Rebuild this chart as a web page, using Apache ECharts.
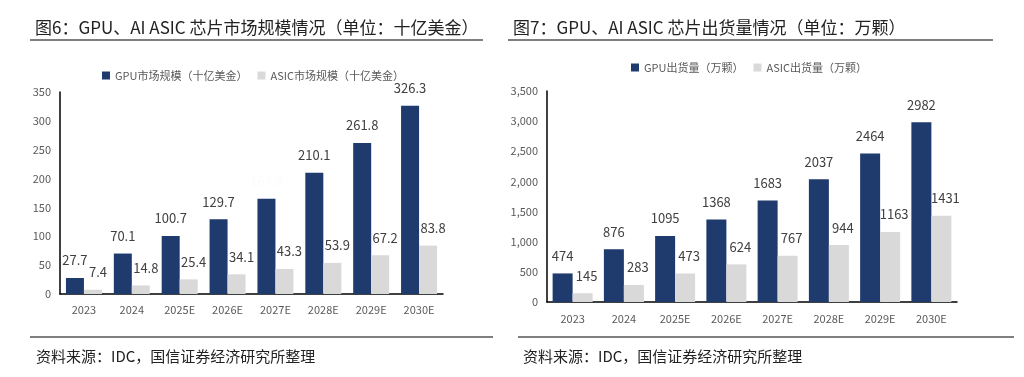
<!DOCTYPE html>
<html>
<head>
<meta charset="utf-8">
<script src="https://cdn.jsdelivr.net/npm/echarts@6/dist/echarts.min.js"></script>
<style>
  html, body { margin: 0; padding: 0; background: #fff; }
  #main { width: 1024px; height: 377px; }
</style>
</head>
<body>
<div id="main"></div>
<script>
// 年份
var years = ['2023', '2024', '2025E', '2026E', '2027E', '2028E', '2029E', '2030E'];
// 图6 市场规模（十亿美金）
var gpuMarket = [27.7, 70.1, 100.7, 129.7, 164.9, 210.1, 261.8, 326.3];
var asicMarket = [7.4, 14.8, 25.4, 34.1, 43.3, 53.9, 67.2, 83.8];
// 图7 出货量（万颗）
var gpuShip = [474, 876, 1095, 1368, 1683, 2037, 2464, 2982];
var asicShip = [145, 283, 473, 624, 767, 944, 1163, 1431];

var navy = '#1f3a6d';
var grey = '#d9d9d9';
var font = '"Noto Sans CJK SC", "Noto Sans", sans-serif';

// 图6里2027E的GPU数值几乎看不见
var gpuMarketData = gpuMarket.map(function (v, i) {
    if (i === 4) {
        return {value: v, label: {color: '#fbfbfb'}};
    }
    return v;
});

function barLabel(fmt, dx) {
    return {
        show: true,
        position: 'top',
        distance: 11,
        offset: [dx, 0],
        fontSize: 13,
        color: '#404040',
        fontFamily: font,
        formatter: fmt
    };
}

var option = {
    animation: false,
    textStyle: {fontFamily: font},
    title: [
        {text: '图6：GPU、AI ASIC 芯片市场规模情况（单位：十亿美金）', left: 30, top: 14,
            textStyle: {fontSize: 17, fontWeight: 'normal', color: '#222'}},
        {text: '图7：GPU、AI ASIC 芯片出货量情况（单位：万颗）', left: 508, top: 14,
            textStyle: {fontSize: 17, fontWeight: 'normal', color: '#222'}},
        {text: '资料来源：IDC，国信证券经济研究所整理', left: 31, top: 344,
            textStyle: {fontSize: 15, fontWeight: 'normal', color: '#222'}},
        {text: '资料来源：IDC，国信证券经济研究所整理', left: 518, top: 344,
            textStyle: {fontSize: 15, fontWeight: 'normal', color: '#222'}}
    ],
    graphic: [
        {type: 'line', shape: {x1: 30, y1: 40, x2: 483, y2: 40}, style: {stroke: '#555', lineWidth: 1.5}},
        {type: 'line', shape: {x1: 508, y1: 40, x2: 993, y2: 40}, style: {stroke: '#555', lineWidth: 1.5}},
        {type: 'line', shape: {x1: 30, y1: 337, x2: 493, y2: 337}, style: {stroke: '#555', lineWidth: 1.5}},
        {type: 'line', shape: {x1: 518, y1: 337, x2: 1014, y2: 337}, style: {stroke: '#555', lineWidth: 1.5}}
    ],
    legend: [
        {
            data: ['GPU市场规模（十亿美金）', 'ASIC市场规模（十亿美金）'],
            left: 97, top: 65, itemWidth: 8, itemHeight: 8, itemGap: 10,
            icon: 'rect', textStyle: {fontSize: 11, color: '#595959'}
        },
        {
            data: ['GPU出货量（万颗）', 'ASIC出货量（万颗）'],
            left: 626, top: 57, itemWidth: 8, itemHeight: 8, itemGap: 10,
            icon: 'rect', textStyle: {fontSize: 11, color: '#595959'}
        }
    ],
    grid: [
        {left: 60, right: 581, top: 92, bottom: 83},
        {left: 547, right: 67, top: 91, bottom: 75}
    ],
    xAxis: [
        {
            type: 'category', gridIndex: 0, data: years,
            axisLine: {lineStyle: {color: '#000', width: 1.5}},
            axisTick: {show: false},
            axisLabel: {color: '#595959', fontSize: 11, margin: 10}
        },
        {
            type: 'category', gridIndex: 1, data: years,
            axisLine: {lineStyle: {color: '#000', width: 1.5}},
            axisTick: {show: false},
            axisLabel: {color: '#595959', fontSize: 11, margin: 11}
        }
    ],
    yAxis: [
        {
            type: 'value', gridIndex: 0, min: 0, max: 350, interval: 50,
            axisLine: {show: true, lineStyle: {color: '#000', width: 1.5}},
            axisTick: {show: false},
            splitLine: {show: false},
            axisLabel: {color: '#595959', fontSize: 11, margin: 9}
        },
        {
            type: 'value', gridIndex: 1, min: 0, max: 3500, interval: 500,
            axisLine: {show: true, lineStyle: {color: '#000', width: 1.5}},
            axisTick: {show: false},
            splitLine: {show: false},
            axisLabel: {
                color: '#595959', fontSize: 11, margin: 9,
                formatter: function (v) { return v.toLocaleString('en-US'); }
            }
        }
    ],
    series: [
        {
            name: 'GPU市场规模（十亿美金）', type: 'bar', xAxisIndex: 0, yAxisIndex: 0,
            data: gpuMarketData, barWidth: 18, barGap: '0%',
            itemStyle: {color: navy},
            label: barLabel(function (p) { return p.value.toFixed(1); }, 0)
        },
        {
            name: 'ASIC市场规模（十亿美金）', type: 'bar', xAxisIndex: 0, yAxisIndex: 0,
            data: asicMarket, barWidth: 18, barGap: '0%',
            itemStyle: {color: grey},
            label: barLabel(function (p) { return p.value.toFixed(1); }, 5)
        },
        {
            name: 'GPU出货量（万颗）', type: 'bar', xAxisIndex: 1, yAxisIndex: 1,
            data: gpuShip, barWidth: 20, barGap: '0%',
            itemStyle: {color: navy},
            label: barLabel('{c}', 0)
        },
        {
            name: 'ASIC出货量（万颗）', type: 'bar', xAxisIndex: 1, yAxisIndex: 1,
            data: asicShip, barWidth: 20, barGap: '0%',
            itemStyle: {color: grey},
            label: barLabel('{c}', 4)
        }
    ]
};

var myChart = echarts.init(document.getElementById('main'));
myChart.setOption(option);
</script>
</body>
</html>
